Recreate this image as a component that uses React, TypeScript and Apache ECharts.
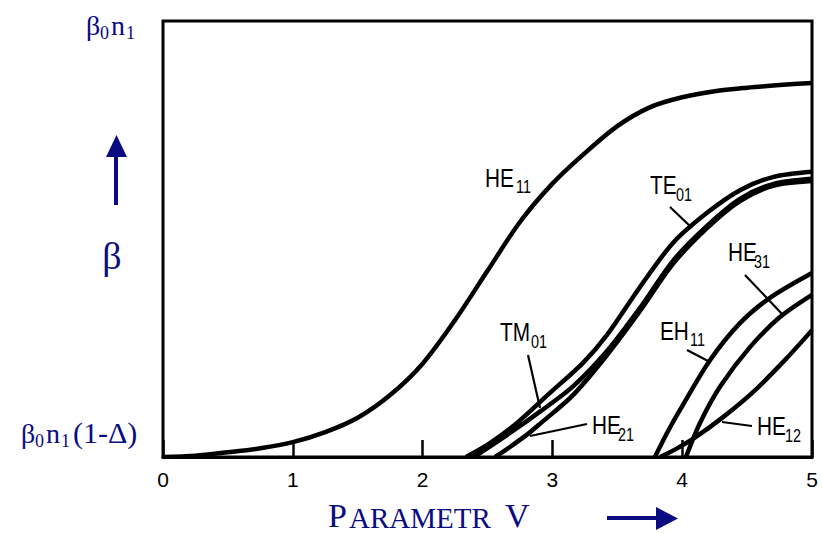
import React, { useEffect, useRef } from 'react';
import * as echarts from 'echarts';

// ---- data (V, normalized beta between β0n1(1-Δ)=0 and β0n1=1) ----
const vTicks = [0, 1, 2, 3, 4, 5];

const he11 = [[0, 0], [0.25, 0.003], [0.5, 0.011], [0.75, 0.02], [1.0, 0.034], [1.25, 0.057], [1.5, 0.09], [1.75, 0.142], [2.0, 0.214], [2.25, 0.314], [2.5, 0.427], [2.75, 0.539], [3.0, 0.627], [3.25, 0.697], [3.5, 0.759], [3.75, 0.802], [4.0, 0.825], [4.25, 0.839], [4.5, 0.847], [4.75, 0.853], [5.0, 0.858]];
const te01 = [[2.334, 0], [2.519, 0.032], [2.727, 0.078], [2.981, 0.147], [3.236, 0.216], [3.421, 0.28], [3.675, 0.39], [3.929, 0.491], [4.191, 0.56], [4.445, 0.612], [4.7, 0.642], [5.0, 0.654]];
const tm01 = [[2.396, 0], [2.673, 0.055], [2.904, 0.104], [3.159, 0.162], [3.421, 0.243], [3.675, 0.342], [3.929, 0.45], [4.191, 0.53], [4.445, 0.592], [4.7, 0.626], [5.0, 0.638]];
const he21 = [[2.558, 0], [2.673, 0.023], [2.812, 0.053], [2.904, 0.076], [3.159, 0.142], [3.421, 0.234], [3.675, 0.335], [3.929, 0.443], [4.191, 0.525], [4.445, 0.587], [4.7, 0.622], [5.0, 0.633]];
const eh11 = [[3.79, 0], [3.883, 0.055], [3.983, 0.108], [4.214, 0.222], [4.445, 0.307], [4.676, 0.365], [5.0, 0.422]];
const he31 = [[4.029, 0], [4.137, 0.078], [4.291, 0.161], [4.522, 0.252], [4.753, 0.321], [5.0, 0.372]];
const he12 = [[3.83, 0], [3.95, 0.018], [4.1, 0.045], [4.3, 0.088], [4.55, 0.15], [4.8, 0.225], [5.0, 0.291]];

const modes = [
  { name: 'HE11', data: he11 },
  { name: 'TE01', data: te01 },
  { name: 'TM01', data: tm01 },
  { name: 'HE21', data: he21 },
  { name: 'EH11', data: eh11 },
  { name: 'HE31', data: he31 },
  { name: 'HE12', data: he12 },
];

// label texts: main, subscript
const modeLabels = [
  { main: 'HE', sub: '11', x: 485, y: 178, sx: 516, sy: 186, line: null },
  { main: 'TE', sub: '01', x: 650, y: 185, sx: 676, sy: 194, line: [670, 207, 692, 228] },
  { main: 'HE', sub: '31', x: 728, y: 252, sx: 754, sy: 261, line: [745, 275, 783, 315] },
  { main: 'EH', sub: '11', x: 660, y: 331, sx: 690, sy: 339, line: [687, 350, 710, 362] },
  { main: 'TM', sub: '01', x: 500, y: 332, sx: 531, sy: 341, line: [528, 355, 540, 408] },
  { main: 'HE', sub: '21', x: 592, y: 425, sx: 618, sy: 434, line: [587, 424, 530, 436] },
  { main: 'HE', sub: '12', x: 757, y: 426, sx: 785, sy: 435, line: [752, 426, 722, 422] },
];

const NAVY = '#0b0b82';
const SANS = '"Liberation Sans", Arial, sans-serif';
const SERIF = '"Liberation Serif", "Times New Roman", serif';

function txt(text: string, x: number, y: number, size: number, family: string, fill: string, align = 'left', scaleX = 1) {
  return {
    type: 'text',
    x,
    y,
    scaleX,
    z: 100,
    silent: true,
    style: {
      text,
      fontSize: size,
      fontFamily: family,
      lineHeight: Math.round(size * 0.9),
      fill,
      align,
      verticalAlign: 'middle',
      textAlign: align,
      textVerticalAlign: 'middle',
    },
  };
}

export default function App() {
  const ref = useRef<HTMLDivElement>(null);
  useEffect(() => {
    const chart = echarts.init(ref.current as HTMLDivElement, undefined, { renderer: 'svg' });

    const graphics: any[] = [];
    modeLabels.forEach((l) => {
      graphics.push(txt(l.main, l.x, l.y, 26, SANS, '#000', 'left', 0.8));
      graphics.push(txt(l.sub, l.sx, l.sy, 18, SANS, '#000', 'left', 0.8));
      if (l.line) {
        graphics.push({
          type: 'line',
          z: 100,
          silent: true,
          shape: { x1: l.line[0], y1: l.line[1], x2: l.line[2], y2: l.line[3] },
          style: { stroke: '#000', lineWidth: 2.2 },
        });
      }
    });

    // left annotations
    graphics.push(txt('β', 86, 25, 28, SERIF, NAVY));
    graphics.push(txt('0', 100, 33, 18, SERIF, NAVY));
    graphics.push(txt('n', 111, 25, 28, SERIF, NAVY));
    graphics.push(txt('1', 126, 33, 18, SERIF, NAVY));

    graphics.push(txt('β', 112, 256, 38, SERIF, NAVY, 'center'));
    graphics.push({
      type: 'line', z: 100, silent: true,
      shape: { x1: 116, y1: 205, x2: 116, y2: 155 },
      style: { stroke: NAVY, lineWidth: 4 },
    });
    graphics.push({
      type: 'polygon', z: 100, silent: true,
      shape: { points: [[106, 157], [127, 157], [116.5, 135]] },
      style: { fill: NAVY },
    });

    graphics.push(txt('β', 21, 433, 28, SERIF, NAVY));
    graphics.push(txt('0', 35, 441, 18, SERIF, NAVY));
    graphics.push(txt('n', 46, 433, 28, SERIF, NAVY));
    graphics.push(txt('1', 61, 441, 18, SERIF, NAVY));
    graphics.push(txt('(1-Δ)', 73, 432, 30, SERIF, NAVY));

    // x title
    graphics.push(txt('P', 328, 515, 34, SERIF, NAVY));
    graphics.push(txt('ARAMETR', 349, 518, 29, SERIF, NAVY));
    graphics.push(txt('V', 505, 515, 34, SERIF, NAVY));
    graphics.push({
      type: 'line', z: 100, silent: true,
      shape: { x1: 607, y1: 518, x2: 658, y2: 518 },
      style: { stroke: NAVY, lineWidth: 4 },
    });
    graphics.push({
      type: 'polygon', z: 100, silent: true,
      shape: { points: [[656, 507], [656, 530], [678, 518.5]] },
      style: { fill: NAVY },
    });

    chart.setOption({
      animation: false,
      backgroundColor: '#fff',
      grid: {
        left: 163,
        top: 21,
        width: 649,
        height: 436,
        show: true,
        borderColor: '#000',
        borderWidth: 3,
        backgroundColor: 'transparent',
      },
      xAxis: {
        type: 'value',
        min: vTicks[0],
        max: vTicks[vTicks.length - 1],
        interval: 1,
        axisLine: { show: true, lineStyle: { color: '#000', width: 3 } },
        axisTick: { show: true, inside: true, length: 17, lineStyle: { color: '#000', width: 2.5 } },
        axisLabel: {
          show: true,
          margin: 12,
          fontSize: 21,
          color: '#000',
          fontFamily: '"Liberation Sans", Arial, sans-serif',
          formatter: (v: number) => String(v),
        },
        splitLine: { show: false },
      },
      yAxis: {
        type: 'value',
        min: 0,
        max: 1,
        show: false,
        splitLine: { show: false },
      },
      series: modes.map((m) => ({
        name: m.name,
        type: 'line',
        data: m.data,
        showSymbol: false,
        symbol: 'none',
        smooth: 0.3,
        silent: true,
        lineStyle: { color: '#000', width: 4.5 },
        z: 5,
      })),
      graphic: { elements: graphics },
    });

    return () => chart.dispose();
  }, []);

  return <div ref={ref} style={{ position: 'fixed', left: 0, top: 0, width: 822, height: 534 }} />;
}
